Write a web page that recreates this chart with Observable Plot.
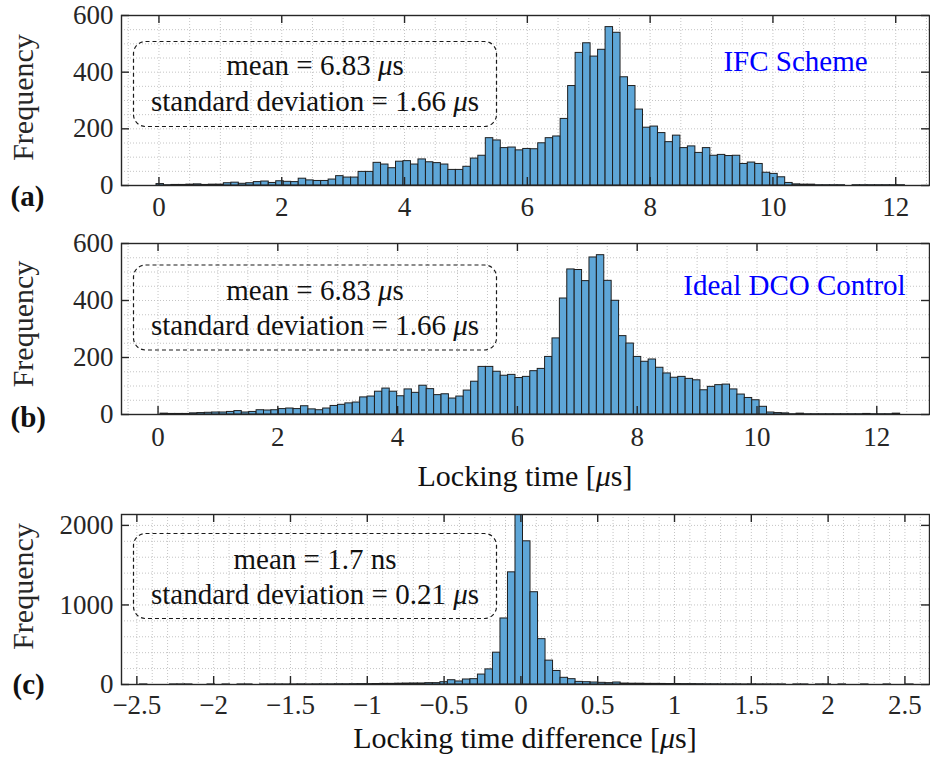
<!DOCTYPE html>
<html>
<head>
<meta charset="utf-8">
<script src="https://cdn.jsdelivr.net/npm/d3@7"></script>
<script src="https://cdn.jsdelivr.net/npm/@observablehq/plot@0.6"></script>
<style>
  body { margin: 0; background: #fff; }
  #wrap { position: relative; width: 930px; height: 761px; font-family: "Liberation Serif", "Times New Roman", serif; }
  .panel { position: absolute; left: 0; }
</style>
</head>
<body>
<div id="wrap"></div>
<script>
// ---------- data ----------
// (a) IFC Scheme: locking time histogram (µs)
const binStartA = -0.04, binWidthA = 0.1219;
const countsA = [5,1,2,2,3,4,2,3,3,8, 10,6,8,12,14,9,15,13,12,24,
  18,16,16,21,33,28,28,48,48,80, 74,61,84,86,74,92,82,79,74,55,
  55,66,95,105,167,159,132,134,124,129, 128,149,167,173,235,351,468,502,455,479,
  559,539,382,351,268,204,208,185,153,176, 132,138,115,132,105,108,104,105,76,81,
  76,45,41,29,9,4,3,3,1,1, 1,1,0,1,1,1,1,1,1,1];

// (b) Ideal DCO Control: locking time histogram (µs)
const binStartB = 0.04, binWidthB = 0.1235;
const countsB = [3,2,2,2,4,5,6,7,7,9, 12,7,9,15,14,15,19,21,19,29,
  18,15,21,30,34,39,42,60,63,80, 91,80,64,88,76,101,89,68,71,56,
  63,84,115,167,167,150,136,139,128,132, 152,160,202,267,407,509,507,468,551,559,
  469,399,275,249,202,185,193,164,144,129, 132,125,120,85,97,103,105,88,70,58,
  50,27,7,5,4,1,3,1,1,1, 1,1,1,1,1,2,1,1,1,3];

// (c) locking time difference histogram (µs)
const binStartC = -2.578, binWidthC = 0.0489;
const countsC = [0,0,1,0,0,0,1,1,1,0, 0,1,0,1,0,1,1,0,1,1,
  1,1,1,2,1,2,2,2,3,3, 4,5,5,6,8,8,10,12,13,13,
  17,17,29,54,38,63,67,125,190,400, 830,1410,2250,1800,1160,570,300,170,84,67,
  33,29,25,21,17,25,12,10,10,8, 8,7,6,6,5,5,4,3,3,2,
  2,2,1,2,1,1,1,1,0,1, 1,0,1,1,0,1,0,0,1,0,
  0,1,0,0,1,0];

// axes
const xTicksAB = [0, 2, 4, 6, 8, 10, 12];
const yTicksAB = [0, 200, 400, 600];
const xTicksC = [-2.5, -2, -1.5, -1, -0.5, 0, 0.5, 1, 1.5, 2, 2.5];
const yTicksC = [0, 1000, 2000];
const xDomainA = [-0.61, 12.55], xDomainB = [-0.61, 12.88], xDomainC = [-2.6, 2.66];
const yDomainAB = [0, 600], yDomainC = [0, 2137];

// annotations (segments: plain text, italic part, plain text)
const statsA = [["mean = 6.83 ", "μ", "s"], ["standard deviation = 1.66 ", "μ", "s"]];
const statsB = [["mean = 6.83 ", "μ", "s"], ["standard deviation = 1.66 ", "μ", "s"]];
const statsC = [["mean = 1.7 ns", "", ""], ["standard deviation = 0.21 ", "μ", "s"]];
const schemeA = "IFC Scheme", schemeB = "Ideal DCO Control";
const yLabel = "Frequency";
const xLabelB = ["Locking time [", "μ", "s]"];
const xLabelC = ["Locking time difference [", "μ", "s]"];

// ---------- drawing ----------
const wrap = document.getElementById("wrap");
const FONT = "'Liberation Serif', 'Times New Roman', serif";
const INK = "#262626";
const fmt = d => (d < 0 ? "\u2212" : "") + Math.abs(d);

function drawPanel(p) {
  const W = 930, ml = 121, mr = 1;
  const fw = W - ml - mr, fh = p.height - p.mt - p.mb;
  const bins = p.counts.map((c, i) => ({x0: p.start + i * p.width, x1: p.start + (i + 1) * p.width, count: c}));
  const marks = [
    Plot.ruleX(p.gridX, {stroke: "#c4c4c4", strokeWidth: 1, strokeDasharray: "1,2"}),
    Plot.ruleY(p.gridY, {stroke: "#c4c4c4", strokeWidth: 1, strokeDasharray: "1,2"}),
    Plot.rectY(bins, {x1: "x0", x2: "x1", y: "count", fill: "#5ea6d7", stroke: "#1e1e1e", strokeWidth: 1, inset: 0, clip: true}),
    Plot.frame({stroke: INK, strokeWidth: 1.4}),
    Plot.ruleX(p.xTicks, {insetTop: fh - 8, stroke: INK, strokeWidth: 1.4}),
    Plot.ruleX(p.xTicks, {insetBottom: fh - 8, stroke: INK, strokeWidth: 1.4}),
    Plot.ruleY(p.yTicks, {insetRight: fw - 8, stroke: INK, strokeWidth: 1.4}),
    Plot.ruleY(p.yTicks, {insetLeft: fw - 8, stroke: INK, strokeWidth: 1.4}),
    Plot.axisX({ticks: p.xTicks, tickSize: 0, tickPadding: p.xPad, fontSize: 27, tickFormat: fmt, label: null}),
    Plot.axisY({ticks: p.yTicks, tickSize: 0, tickPadding: 8, fontSize: 27, tickFormat: fmt, label: null}),
    Plot.text([yLabel], {text: d => d, frameAnchor: "left", textAnchor: "middle", lineAnchor: "middle", rotate: -90, dx: -98, dy: p.yLabDy, fontSize: 30, fill: INK}),
    Plot.text([p.tag], {text: d => d, frameAnchor: "bottom-left", textAnchor: "start", lineAnchor: "bottom", dx: p.tagDx, dy: p.tagDy, fontSize: 29, fontWeight: "bold", fill: "#111"})
  ];
  const svg = Plot.plot({
    width: W, height: p.height,
    marginLeft: ml, marginRight: mr, marginTop: p.mt, marginBottom: p.mb,
    x: {domain: p.xDomain}, y: {domain: p.yDomain},
    style: {fontFamily: FONT, color: INK, background: "transparent", overflow: "visible"},
    marks
  });
  const div = document.createElement("div");
  div.className = "panel";
  div.style.top = p.top + "px";
  div.appendChild(svg);
  wrap.appendChild(div);
}

const gridXAB = d3.range(-1, 26).map(k => k / 2);
const gridYAB = d3.range(0, 13).map(k => k * 50);
const gridXC = d3.range(-26, 27).map(k => k / 10);
const gridYC = d3.range(0, 11).map(k => k * 200);

drawPanel({counts: countsA, start: binStartA, width: binWidthA, xDomain: xDomainA, yDomain: yDomainAB,
  xTicks: xTicksAB, yTicks: yTicksAB, gridX: gridXAB, gridY: gridYAB,
  top: 0, height: 215, mt: 15, mb: 30, xPad: 11, yLabDy: -3, tag: "(a)", tagDx: -111, tagDy: 20});
drawPanel({counts: countsB, start: binStartB, width: binWidthB, xDomain: xDomainB, yDomain: yDomainAB,
  xTicks: xTicksAB, yTicks: yTicksAB, gridX: gridXAB, gridY: gridYAB,
  top: 228, height: 266, mt: 15, mb: 80, xPad: 12, yLabDy: -5, tag: "(b)", tagDx: -111, tagDy: 12});
drawPanel({counts: countsC, start: binStartC, width: binWidthC, xDomain: xDomainC, yDomain: yDomainC,
  xTicks: xTicksC, yTicks: yTicksC, gridX: gridXC, gridY: gridYC,
  top: 499, height: 262, mt: 15, mb: 77, xPad: 10, yLabDy: -13, tag: "(c)", tagDx: -109, tagDy: 9});

// ---------- annotation overlay ----------
const ov = d3.select(wrap).append("svg")
  .attr("width", 930).attr("height", 761)
  .style("position", "absolute").style("left", "0px").style("top", "0px")
  .style("font-family", FONT);

function richText(x, y, parts, size, fill) {
  const t = ov.append("text").attr("x", x).attr("y", y)
    .attr("text-anchor", "middle").attr("font-size", size).attr("fill", fill);
  t.append("tspan").text(parts[0]);
  if (parts[1]) t.append("tspan").attr("font-style", "italic").text(parts[1]);
  if (parts[2]) t.append("tspan").text(parts[2]);
}

const boxes = [
  {stats: statsA, x: 133.5, y: 41.5, w: 363, h: 85, base: [75, 110.5]},
  {stats: statsB, x: 133.5, y: 265, w: 363, h: 85, base: [300, 335]},
  {stats: statsC, x: 133.5, y: 533.5, w: 363, h: 85, base: [568.5, 604]}
];
boxes.forEach(b => {
  ov.append("rect").attr("x", b.x).attr("y", b.y).attr("width", b.w).attr("height", b.h)
    .attr("rx", 12).attr("ry", 12).attr("fill", "none")
    .attr("stroke", "#1a1a1a").attr("stroke-width", 1.2).attr("stroke-dasharray", "4,3");
  b.stats.forEach((line, j) => richText(b.x + b.w / 2, b.base[j], line, 29, "#111"));
});
richText(525, 486, xLabelB, 30, "#111");
richText(525, 748, xLabelC, 30, "#111");
ov.append("text").attr("x", 795.5).attr("y", 70.5).attr("text-anchor", "middle")
  .attr("font-size", 29).attr("fill", "#0000ff").text(schemeA);
ov.append("text").attr("x", 794.5).attr("y", 295).attr("text-anchor", "middle")
  .attr("font-size", 29).attr("fill", "#0000ff").text(schemeB);
</script>
</body>
</html>
